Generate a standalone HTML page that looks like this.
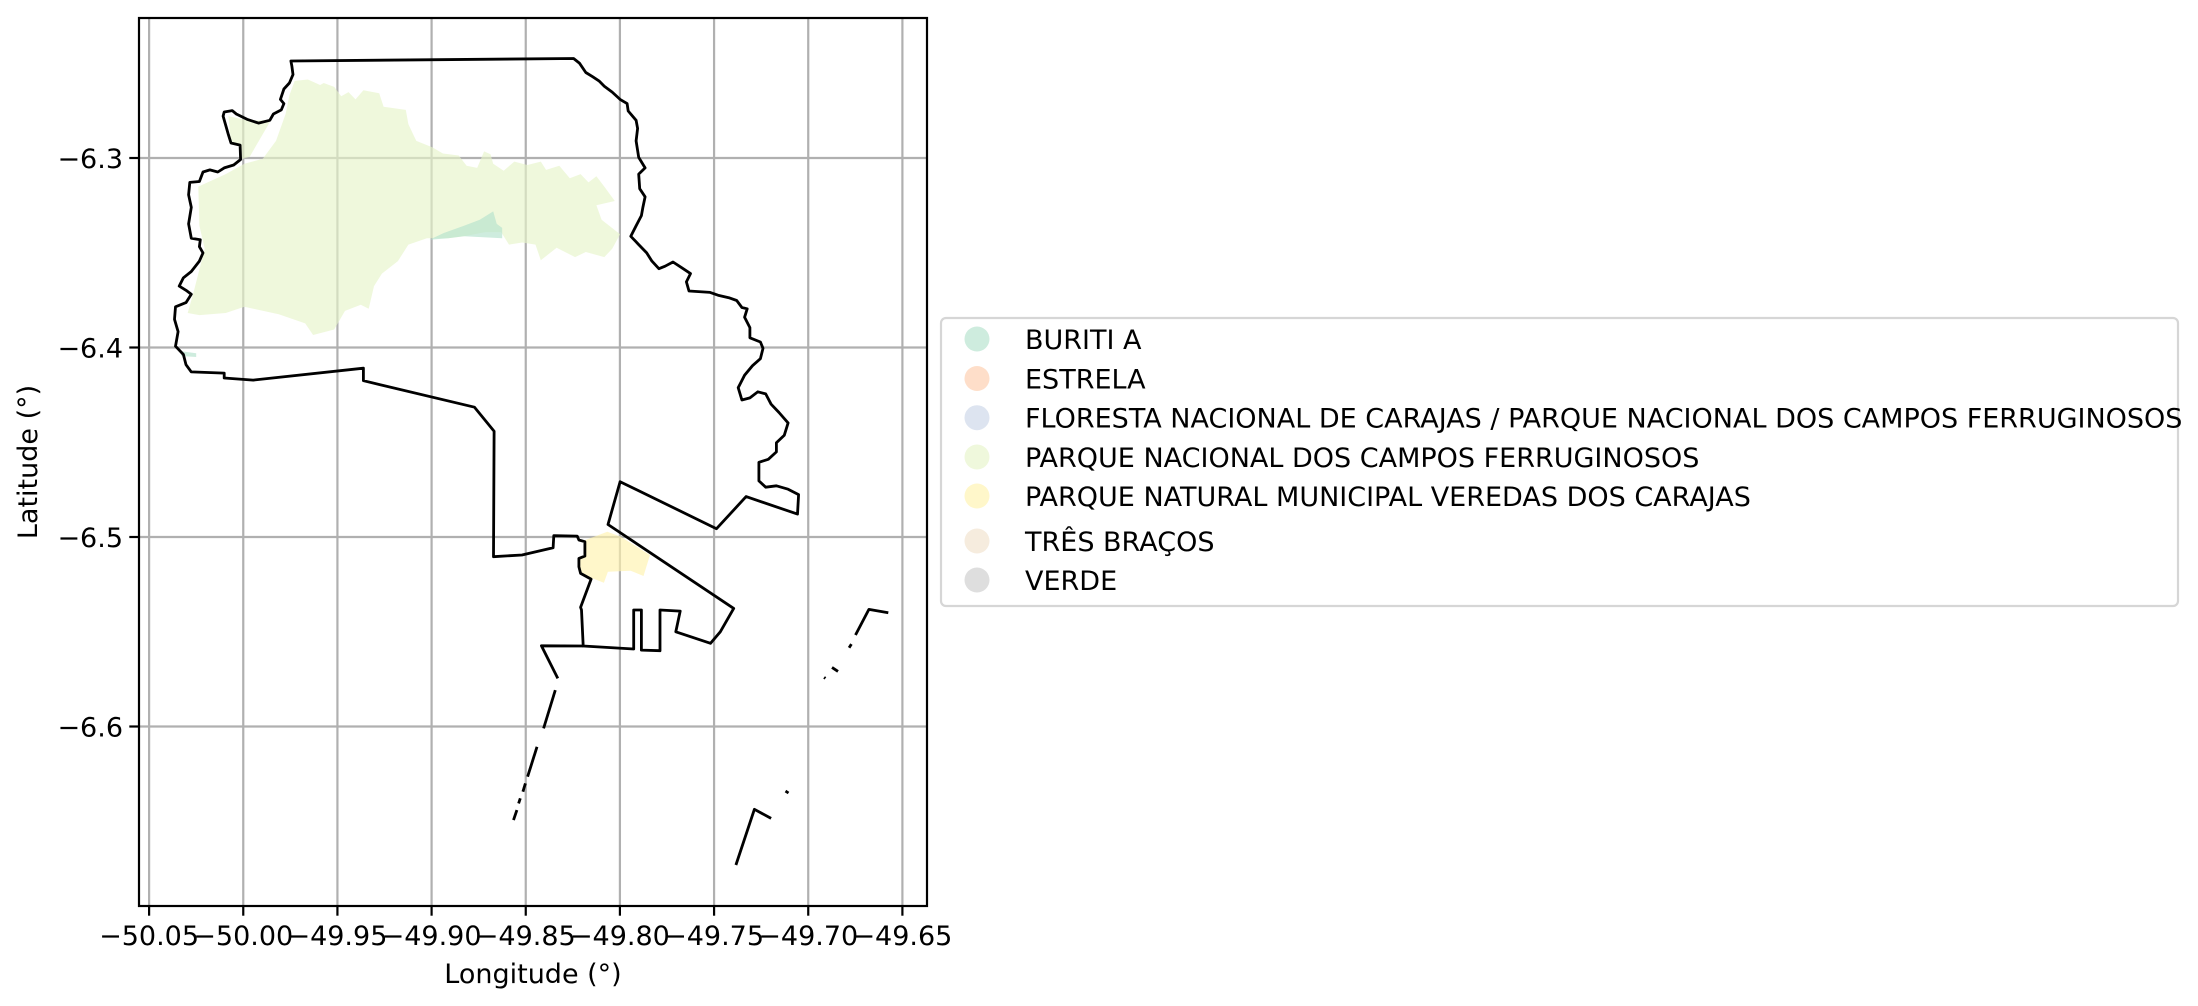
<!DOCTYPE html>
<html><head><meta charset="utf-8"><style>
html,body{margin:0;padding:0;background:#fff;}
svg{display:block;font-family:"DejaVu Sans","Liberation Sans",sans-serif;}
</style></head><body>
<svg id="chart" width="2198" height="1006" viewBox="0 0 2198 1006" xmlns="http://www.w3.org/2000/svg">
<rect x="0" y="0" width="2198" height="1006" fill="#fff"/>
<g id="grid"></g>
<g id="areas"></g>
<g id="bounds"></g>
<g id="axes"></g>
<g id="legend"></g>
</svg>
<script>
const xTicks = [-50.05,-50.00,-49.95,-49.90,-49.85,-49.80,-49.75,-49.70,-49.65];
const xTickLabels = ["−50.05","−50.00","−49.95","−49.90","−49.85","−49.80","−49.75","−49.70","−49.65"];
const yTicks = [-6.3,-6.4,-6.5,-6.6];
const yTickLabels = ["−6.3","−6.4","−6.5","−6.6"];
const legendLabels = ["BURITI A","ESTRELA","FLORESTA NACIONAL DE CARAJAS / PARQUE NACIONAL DOS CAMPOS FERRUGINOSOS","PARQUE NACIONAL DOS CAMPOS FERRUGINOSOS","PARQUE NATURAL MUNICIPAL VEREDAS DOS CARAJAS","TRÊS BRAÇOS","VERDE"];
const legendColors = ["#b3e2cd","#fdcdac","#cbd5e8","#e6f5c9","#fff2ae","#f1e2cc","#cccccc"];

const mainBoundary = [[-49.9747,-6.2488],[-49.8246,-6.2475],[-49.8215,-6.2499],[-49.8181,-6.2549],[-49.8145,-6.2571],[-49.8111,-6.2593],[-49.8083,-6.2621],[-49.8041,-6.2652],[-49.7999,-6.2691],[-49.7962,-6.2713],[-49.7956,-6.2752],[-49.7914,-6.2801],[-49.7906,-6.2844],[-49.7914,-6.2910],[-49.7900,-6.2997],[-49.7866,-6.3052],[-49.7900,-6.3085],[-49.7895,-6.3162],[-49.7866,-6.3205],[-49.7878,-6.3260],[-49.7886,-6.3304],[-49.7914,-6.3358],[-49.7942,-6.3413],[-49.7900,-6.3457],[-49.7858,-6.3501],[-49.7830,-6.3544],[-49.7793,-6.3584],[-49.7760,-6.3571],[-49.7718,-6.3549],[-49.7675,-6.3577],[-49.7625,-6.3610],[-49.7647,-6.3654],[-49.7633,-6.3702],[-49.7521,-6.3709],[-49.7479,-6.3724],[-49.7422,-6.3737],[-49.7380,-6.3752],[-49.7352,-6.3789],[-49.7324,-6.3796],[-49.7338,-6.3840],[-49.7310,-6.3895],[-49.7310,-6.3949],[-49.7254,-6.3971],[-49.7240,-6.4004],[-49.7254,-6.4059],[-49.7296,-6.4096],[-49.7338,-6.4146],[-49.7372,-6.4212],[-49.7352,-6.4277],[-49.7310,-6.4266],[-49.7268,-6.4234],[-49.7226,-6.4245],[-49.7197,-6.4299],[-49.7155,-6.4343],[-49.7107,-6.4398],[-49.7127,-6.4463],[-49.7169,-6.4503],[-49.7169,-6.4551],[-49.7212,-6.4590],[-49.7262,-6.4606],[-49.7262,-6.4704],[-49.7226,-6.4737],[-49.7169,-6.4730],[-49.7107,-6.4748],[-49.7051,-6.4776],[-49.7057,-6.4879],[-49.7330,-6.4787],[-49.7487,-6.4956],[-49.7999,-6.4708],[-49.8063,-6.4934],[-49.7396,-6.5377],[-49.7467,-6.5500],[-49.7519,-6.5561],[-49.7703,-6.5500],[-49.7680,-6.5391],[-49.7787,-6.5385],[-49.7787,-6.5600],[-49.7886,-6.5597],[-49.7886,-6.5385],[-49.7927,-6.5385],[-49.7927,-6.5591],[-49.8195,-6.5575],[-49.8204,-6.5385],[-49.8209,-6.5371],[-49.8153,-6.5222],[-49.8209,-6.5192],[-49.8218,-6.5157],[-49.8218,-6.5113],[-49.8186,-6.5101],[-49.8186,-6.5025],[-49.8218,-6.5016],[-49.8227,-6.4995],[-49.8351,-6.4993],[-49.8355,-6.5057],[-49.8520,-6.5095],[-49.8671,-6.5104],[-49.8668,-6.4442],[-49.8772,-6.4315],[-49.9362,-6.4175],[-49.9362,-6.4109],[-49.9947,-6.4172],[-50.0101,-6.4161],[-50.0101,-6.4135],[-50.0276,-6.4129],[-50.0304,-6.4091],[-50.0318,-6.4037],[-50.0360,-6.3993],[-50.0346,-6.3916],[-50.0365,-6.3851],[-50.0360,-6.3785],[-50.0304,-6.3763],[-50.0276,-6.3719],[-50.0304,-6.3698],[-50.0340,-6.3676],[-50.0318,-6.3632],[-50.0276,-6.3599],[-50.0233,-6.3544],[-50.0214,-6.3501],[-50.0233,-6.3468],[-50.0228,-6.3431],[-50.0276,-6.3424],[-50.0290,-6.3348],[-50.0276,-6.3260],[-50.0290,-6.3194],[-50.0284,-6.3129],[-50.0233,-6.3124],[-50.0214,-6.3074],[-50.0177,-6.3063],[-50.0135,-6.3074],[-50.0101,-6.3052],[-50.0051,-6.3037],[-50.0014,-6.3008],[-50.0017,-6.2932],[-50.0065,-6.2921],[-50.0079,-6.2877],[-50.0107,-6.2779],[-50.0101,-6.2757],[-50.0059,-6.2750],[-50.0037,-6.2768],[-49.9980,-6.2796],[-49.9919,-6.2816],[-49.9859,-6.2801],[-49.9840,-6.2768],[-49.9798,-6.2746],[-49.9784,-6.2713],[-49.9803,-6.2691],[-49.9784,-6.2636],[-49.9755,-6.2604],[-49.9736,-6.2560],[-49.9742,-6.2516]];
const boundaryLines = [
 [[-49.8195,-6.5575],[-49.8417,-6.5574],[-49.8330,-6.5746]],
 [[-49.8343,-6.5808],[-49.8405,-6.6010]],
 [[-49.8440,-6.6107],[-49.8490,-6.6265]],
 [[-49.8502,-6.6300],[-49.8515,-6.6344]],
 [[-49.8529,-6.6379],[-49.8538,-6.6406]],
 [[-49.8547,-6.6441],[-49.8565,-6.6494]],
 [[-49.6575,-6.5400],[-49.6678,-6.5382],[-49.6749,-6.5517]],
 [[-49.6771,-6.5565],[-49.6783,-6.5584]],
 [[-49.6874,-6.5688],[-49.6842,-6.5709]],
 [[-49.6916,-6.5741],[-49.6909,-6.5746]],
 [[-49.7384,-6.6731],[-49.7286,-6.6437],[-49.7197,-6.6485]],
 [[-49.7121,-6.6341],[-49.7105,-6.6351]]
];
const parqueNacional = [[-49.9727,-6.2593],[-49.9657,-6.2586],[-49.9592,-6.2615],[-49.9573,-6.2604],[-49.9517,-6.2625],[-49.9480,-6.2674],[-49.9441,-6.2652],[-49.9404,-6.2691],[-49.9362,-6.2643],[-49.9278,-6.2658],[-49.9255,-6.2730],[-49.9137,-6.2746],[-49.9123,-6.2822],[-49.9081,-6.2910],[-49.8997,-6.2943],[-49.8940,-6.2976],[-49.8856,-6.2987],[-49.8814,-6.3041],[-49.8758,-6.3052],[-49.8721,-6.2965],[-49.8687,-6.2980],[-49.8673,-6.3030],[-49.8617,-6.3067],[-49.8561,-6.3019],[-49.8491,-6.3037],[-49.8420,-6.3019],[-49.8392,-6.3063],[-49.8322,-6.3041],[-49.8266,-6.3107],[-49.8209,-6.3085],[-49.8167,-6.3129],[-49.8125,-6.3096],[-49.8083,-6.3151],[-49.8027,-6.3227],[-49.8125,-6.3249],[-49.8097,-6.3326],[-49.7999,-6.3402],[-49.8041,-6.3479],[-49.8083,-6.3523],[-49.8181,-6.3496],[-49.8238,-6.3523],[-49.8336,-6.3474],[-49.8420,-6.3540],[-49.8448,-6.3457],[-49.8519,-6.3446],[-49.8589,-6.3457],[-49.8631,-6.3391],[-49.8715,-6.3391],[-49.8828,-6.3413],[-49.8912,-6.3424],[-49.9025,-6.3424],[-49.9123,-6.3457],[-49.9179,-6.3544],[-49.9264,-6.3610],[-49.9306,-6.3676],[-49.9334,-6.3796],[-49.9376,-6.3774],[-49.9460,-6.3807],[-49.9517,-6.3905],[-49.9629,-6.3934],[-49.9671,-6.3873],[-49.9812,-6.3825],[-49.9994,-6.3785],[-50.0093,-6.3818],[-50.0233,-6.3829],[-50.0295,-6.3818],[-50.0261,-6.3698],[-50.0233,-6.3588],[-50.0205,-6.3479],[-50.0233,-6.3358],[-50.0239,-6.3151],[-50.0093,-6.3085],[-49.9994,-6.3030],[-49.9896,-6.3004],[-49.9826,-6.2910],[-49.9775,-6.2768],[-49.9755,-6.2669]];
const parqueNacionalWest = [[-50.0079,-6.2779],[-49.9980,-6.2801],[-49.9859,-6.2801],[-49.9812,-6.2730],[-49.9966,-6.2993],[-50.0014,-6.3008],[-50.0017,-6.2932],[-50.0065,-6.2921]];
const buritiA = [[-49.9011,-6.3431],[-49.8935,-6.3396],[-49.8828,-6.3358],[-49.8744,-6.3326],[-49.8673,-6.3282],[-49.8654,-6.3348],[-49.8625,-6.3369],[-49.8625,-6.3424],[-49.8828,-6.3413],[-49.8912,-6.3424]];
const buritiWest = [[-50.0330,-6.4020],[-50.0250,-6.4030],[-50.0250,-6.4050],[-50.0330,-6.4045]];
const veredas = [[-49.8183,-6.5016],[-49.8067,-6.4972],[-49.7996,-6.4998],[-49.7840,-6.5095],[-49.7875,-6.5206],[-49.7943,-6.5178],[-49.8064,-6.5183],[-49.8085,-6.5241],[-49.8147,-6.5218],[-49.8209,-6.5192],[-49.8218,-6.5113],[-49.8186,-6.5101]];

const NS="http://www.w3.org/2000/svg";
const AX={l:139,r:927,t:18,b:906};
const X0=149.1, XS=1883.25, Y0=158, YS=1895;
const FS=27;
function sx(lon){return X0+(lon+50.05)*XS;}
function sy(lat){return Y0+(-6.3-lat)*YS;}
function mk(tag,attrs,parent){const e=document.createElementNS(NS,tag);for(const k in attrs)e.setAttribute(k,attrs[k]);parent.appendChild(e);return e;}
function pts(a){return a.map(p=>sx(p[0]).toFixed(1)+","+sy(p[1]).toFixed(1)).join(" ");}

const grid=document.getElementById('grid'), areas=document.getElementById('areas'), bounds=document.getElementById('bounds'), axes=document.getElementById('axes'), legend=document.getElementById('legend');

xTicks.forEach((v,i)=>{
  const x=sx(v);
  const g=mk('line',{x1:x,x2:x,y1:AX.t,y2:AX.b,stroke:'#b0b0b0','stroke-width':2.2},grid);
  
  
  const t=mk('line',{x1:x,x2:x,y1:AX.b,y2:AX.b+9.7,stroke:'#000','stroke-width':2.2},axes);
  
  
  const lb=mk('text',{x:x,y:AX.b+39,'text-anchor':'middle','font-size':FS,fill:'#000'},axes);
  lb.textContent=xTickLabels[i];
  
  
});
yTicks.forEach((v,i)=>{
  const y=sy(v);
  const g=mk('line',{x1:AX.l,x2:AX.r,y1:y,y2:y,stroke:'#b0b0b0','stroke-width':2.2},grid);
  
  
  const t=mk('line',{x1:AX.l-9.7,x2:AX.l,y1:y,y2:y,stroke:'#000','stroke-width':2.2},axes);
  
  
  const lb=mk('text',{x:AX.l-16,y:y+10,'text-anchor':'end','font-size':FS,fill:'#000'},axes);
  lb.textContent=yTickLabels[i];
  
  
});

function area(data,color,name){
  const p=mk('polygon',{points:pts(data),fill:color,'fill-opacity':0.65,stroke:'none'},areas);
  
  
}
area(parqueNacional,legendColors[3],'area-parque-nacional');
area(parqueNacionalWest,legendColors[3],'area-parque-nacional-west');
area(buritiA,legendColors[0],'area-buriti-a');
area(buritiWest,legendColors[0],'area-buriti-a-west');
area(veredas,legendColors[4],'area-veredas-dos-carajas');

const mb=mk('polygon',{points:pts(mainBoundary),fill:'none',stroke:'#000','stroke-width':2.8,'stroke-linejoin':'round'},bounds);


boundaryLines.forEach(l=>{
  const e=mk('polyline',{points:pts(l),fill:'none',stroke:'#000','stroke-width':2.8,'stroke-linejoin':'round'},bounds);
  
  
});

const fr=mk('rect',{x:AX.l,y:AX.t,width:AX.r-AX.l,height:AX.b-AX.t,fill:'none',stroke:'#000','stroke-width':2.2},axes);


const xl=mk('text',{x:(AX.l+AX.r)/2,y:983,'text-anchor':'middle','font-size':FS,fill:'#000'},axes);
xl.textContent='Longitude (°)';


const yl=mk('text',{x:0,y:0,'text-anchor':'middle','font-size':FS,fill:'#000',transform:'translate(37,'+((AX.t+AX.b)/2)+') rotate(-90)'},axes);
yl.textContent='Latitude (°)';



const lbox=mk('rect',{x:941,y:318,width:1237,height:288,rx:5,fill:'#fff','fill-opacity':0.8,stroke:'#d6d6d6','stroke-width':2.2},legend);


const rowY=[339,378.5,417.7,457,496,541,580];
legendLabels.forEach((s,i)=>{
  const c=mk('circle',{cx:977,cy:rowY[i],r:12.5,fill:legendColors[i],'fill-opacity':0.65},legend);
  
  
  const t=mk('text',{x:1025,y:rowY[i]+10,'font-size':FS,fill:'#000'},legend);
  t.textContent=s;
  
  
});
</script>
</body></html>
